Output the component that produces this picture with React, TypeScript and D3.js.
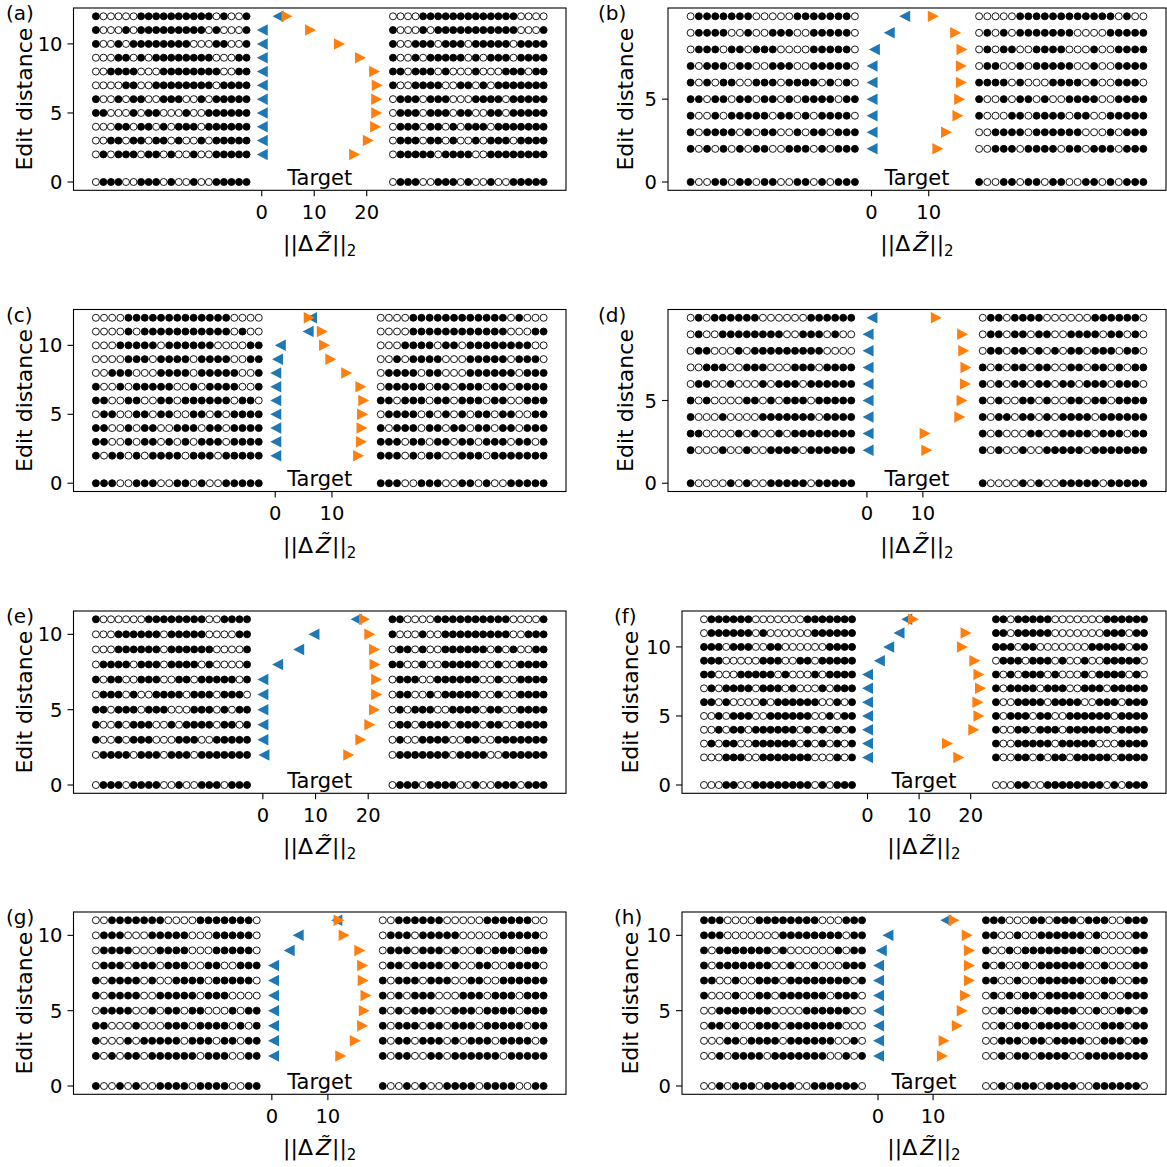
import React from 'react';
import * as d3 from 'd3';

const FONT = '"DejaVu Sans", sans-serif';
const BLUE = '#1f77b4';
const ORANGE = '#ff7f0e';
const GAP = 3;
const BLOCK_W = 28.7;

// ---------------- data ----------------
const panelIds = ['a', 'b', 'c', 'd', 'e', 'f', 'g', 'h'];

const rowsA = [12, 11, 10, 9, 8, 7, 6, 5, 4, 3, 2, 0];
const leftA = ['100000111111111101001', '100010111111111010001', '100101111111100011001', '000110101111111100011', '001111000111111110011', '000011001111111101111', '100101100111001011111', '110001011000100111111', '000110110101110111111', '001101101101001011111', '010111011010010011111', '011100111010010011111'];
const rightA = ['000011111111111110000', '100010111111111110001', '100111011101111101111', '100101111101011101111', '110111010001000111011', '100111100110101111111', '011101110001111011111', '011101110110011011111', '011101101011101111111', '011101101001011101111', '011111011110011111111', '011100111010010011111'];
const blueA = [3.1, 0.1, 0.1, 0.1, 0.1, 0.1, 0.1, 0.1, 0.1, 0.1, 0.1];
const orangeA = [4.8, 9.3, 14.8, 18.8, 21.5, 22.0, 21.9, 21.9, 21.7, 20.3, 17.7];
const xTicksA = [0, 10, 20];
const yTicksA = [0, 5, 10];

const rowsB = [10, 9, 8, 7, 6, 5, 4, 3, 2, 0];
const leftB = ['011111110000011111110', '011110010011100111110', '011101101110000111110', '101110110011100111110', '101011001110111101010', '110110110110101111011', '100101111101101011110', '101111010110010110111', '101010101100111010111', '100110110110011010111'];
const rightB = ['000001111111111110100', '010101111111000011111', '010110011110001001111', '011001011111001001111', '111101000111101001110', '100101101001111001111', '100011011110110011111', '001111011111100010111', '001110111101101110111', '100110110110011010111'];
const blueB = [5.8, 3.1, 0.5, 0.1, 0.1, 0.1, 0.1, 0.1, 0.1];
const orangeB = [10.8, 14.7, 15.8, 15.7, 15.7, 15.4, 15.1, 13.1, 11.6];
const xTicksB = [0, 10];
const yTicksB = [0, 5];

const rowsC = [12, 11, 10, 9, 8, 7, 6, 5, 4, 3, 2, 0];
const leftC = ['000011111111111110000', '000010111111111110100', '000111110111111000011', '000011101111011110011', '001110001111011111001', '100101111100101111001', '110011001101111110110', '011001101100110101111', '110010110011101101111', '110010110101011101111', '101101011110111011111', '111001110011010011111'];
const rightC = ['000011111111111101000', '000011111111111100011', '000111101101111111100', '001011110001111101110', '011110110001111110111', '011111011011101101111', '110111011011101100111', '011110101010110110011', '101110110110110110111', '111011011011011101101', '111010110011101111111', '111001110011010011111'];
const blueC = [6.4, 5.8, 0.9, 0.4, 0.1, 0.1, 0.1, 0.1, 0.1, 0.1, 0.1];
const orangeC = [6.0, 8.3, 8.7, 9.8, 12.6, 15.1, 15.6, 15.4, 15.3, 15.2, 14.7];
const xTicksC = [0, 10];
const yTicksC = [0, 5, 10];

const rowsD = [10, 9, 8, 7, 6, 5, 4, 3, 2, 0];
const leftD = ['010111111000000111111', '010011111111001110100', '011000101111111110000', '001110011100011101111', '011001000101110111111', '101000011010111011111', '100010000111111101111', '110000101001011111111', '100010010011110111111', '100001010011111011111'];
const rightD = ['011011110000001111110', '011011011001111011010', '011011010101101110110', '101011011001101101011', '101011011011011101110', '101001101001101101111', '101101101011110111111', '101000110011110111011', '101001001111101111111', '100001010011111011111'];
const blueD = [0.9, 0.2, 0.2, 0.2, 0.2, 0.2, 0.2, 0.2, 0.2];
const orangeD = [12.4, 17.1, 17.3, 17.7, 17.6, 17.0, 16.6, 10.4, 10.7];
const xTicksD = [0, 10];
const yTicksD = [0, 5];

const rowsE = [11, 10, 9, 8, 7, 6, 5, 4, 3, 2, 0];
const leftE = ['100000011111111001111', '000111111011111000011', '000111111011111100001', '011110111011110100001', '101100111001101111101', '011101001111011101110', '110111011100011101011', '100101110010111101101', '100101110001110011111', '011110111011101111111', '011101111001001110111'];
const rightE = ['110000111111111100001', '100010011111111100111', '011010011111101010011', '110010011111001001111', '011100111111001001111', '011001011111001001111', '010111001111011001111', '011011110111011001111', '010011110011001111111', '011111110111100111111', '011101111001001110111'];
const blueE = [17.7, 9.7, 6.8, 2.8, 0.0, 0.0, 0.0, 0.0, 0.0, 0.2];
const orangeE = [19.3, 20.3, 21.2, 21.3, 21.6, 21.6, 21.2, 20.3, 18.6, 16.3];
const xTicksE = [0, 10, 20];
const yTicksE = [0, 5, 10];

const rowsF = [12, 11, 10, 9, 8, 7, 6, 5, 4, 3, 2, 0];
const leftF = ['011111100000001111111', '011111101000000111111', '111011100110000001111', '111000001110011011111', '110001111101000101111', '010111101110100010111', '110100001011111100101', '001011100111111001011', '001011011111101010101', '010110011111101010101', '000111001111111000101', '000110011111111010111'];
const rightF = ['110111110000000111111', '110111110000000111011', '111011000000011111011', '011101110100100111110', '101011101000101111010', '101111011100111011111', '100111101111001110111', '101110110011111101111', '100110111011111101111', '100111110111110001111', '100110101101111101111', '000110011111111010111'];
const blueF = [7.6, 6.1, 4.1, 2.3, 0, 0, 0, 0, 0, 0, 0];
const orangeF = [8.9, 19.1, 18.4, 20.8, 21.6, 21.9, 21.4, 21.6, 20.6, 15.5, 17.7];
const xTicksF = [0, 10, 20];
const yTicksF = [0, 5, 10];

const rowsG = [11, 10, 9, 8, 7, 6, 5, 4, 3, 2, 0];
const leftG = ['001111111000011111110', '011100011111000111110', '011110001111000111110', '011101110111001100111', '101111010011110111110', '101111001111101110000', '011110010110110001011', '110001000111011110101', '100010111110111011011', '101011011111101110011', '100101001111011110011'];
const rightG = ['001111110000011111100', '011101111100000111110', '011101110100101110111', '011011110100110011110', '101110111001100111111', '101011100011101110111', '101011100111011110111', '101110110111011111011', '101101110101110111101', '101100110111111011111', '100101001111011110011'];
const blueG = [11.6, 4.7, 3.1, 0.3, 0.3, 0.3, 0.3, 0.3, 0.3, 0.3];
const orangeG = [12.0, 12.9, 15.7, 16.2, 16.3, 16.8, 16.5, 16.2, 14.9, 12.3];
const xTicksG = [0, 10];
const yTicksG = [0, 5, 10];

const rowsH = [11, 10, 9, 8, 7, 6, 5, 4, 3, 2, 0];
const leftH = ['111000011111111000111', '111000000011111111011', '101111111010000001011', '101111111001001000111', '110010011101111111101', '100010011011111101110', '001111111000011111100', '011010011101111111000', '000110111101111110010', '001011110111111100101', '001011101111001111110'];
const rightH = ['111000110111011100111', '110010011111101000011', '100101111111101000011', '101001011111100100011', '110010011111100110011', '010101101111100100111', '001011101111001001101', '001011011111000111011', '001110110111100111011', '001011011110011111111', '001011101111001111110'];
const blueH = [12.3, 1.8, 0.6, 0.1, 0.1, 0.1, 0.1, 0.1, 0.1, 0.1];
const orangeH = [13.8, 16.2, 16.6, 16.6, 16.6, 15.9, 15.3, 14.4, 12.0, 11.7];
const xTicksH = [0, 10];
const yTicksH = [0, 5, 10];

const panels = [
  { id: 'a', rows: rowsA, left: leftA, right: rightA, blue: blueA, orange: orangeA, xTicks: xTicksA, yTicks: yTicksA },
  { id: 'b', rows: rowsB, left: leftB, right: rightB, blue: blueB, orange: orangeB, xTicks: xTicksB, yTicks: yTicksB },
  { id: 'c', rows: rowsC, left: leftC, right: rightC, blue: blueC, orange: orangeC, xTicks: xTicksC, yTicks: yTicksC },
  { id: 'd', rows: rowsD, left: leftD, right: rightD, blue: blueD, orange: orangeD, xTicks: xTicksD, yTicks: yTicksD },
  { id: 'e', rows: rowsE, left: leftE, right: rightE, blue: blueE, orange: orangeE, xTicks: xTicksE, yTicks: yTicksE },
  { id: 'f', rows: rowsF, left: leftF, right: rightF, blue: blueF, orange: orangeF, xTicks: xTicksF, yTicks: yTicksF },
  { id: 'g', rows: rowsG, left: leftG, right: rightG, blue: blueG, orange: orangeG, xTicks: xTicksG, yTicks: yTicksG },
  { id: 'h', rows: rowsH, left: leftH, right: rightH, blue: blueH, orange: orangeH, xTicks: xTicksH, yTicks: yTicksH },
];

// ---------------- layout ----------------
const boxes = {
  a: { left: 73.5, right: 566, top: 8, bottom: 190.3, labelX: 6, ylabX: 32 },
  b: { left: 668, right: 1166, top: 8, bottom: 190.3, labelX: 598, ylabX: 633 },
  c: { left: 73.5, right: 566, top: 309.5, bottom: 491.5, labelX: 6, ylabX: 32 },
  d: { left: 668, right: 1166, top: 309.5, bottom: 491.5, labelX: 598, ylabX: 633 },
  e: { left: 73.5, right: 566, top: 611, bottom: 793.3, labelX: 6, ylabX: 32 },
  f: { left: 682, right: 1166, top: 611, bottom: 793.3, labelX: 614, ylabX: 638 },
  g: { left: 73.5, right: 566, top: 912, bottom: 1094.3, labelX: 6, ylabX: 32 },
  h: { left: 682, right: 1166, top: 912, bottom: 1094.3, labelX: 614, ylabX: 638 },
};

const TICK_FS = 19.5;
const LABEL_FS = 22;
const CIRCLE_R = 3.5;
const TRI_W = 11;
const TRI_H = 11.5;

function triPath(cx: number, cy: number, dir: 'l' | 'r') {
  const p = d3.path();
  if (dir === 'l') {
    p.moveTo(cx - TRI_W / 2, cy);
    p.lineTo(cx + TRI_W / 2, cy - TRI_H / 2);
    p.lineTo(cx + TRI_W / 2, cy + TRI_H / 2);
  } else {
    p.moveTo(cx + TRI_W / 2, cy);
    p.lineTo(cx - TRI_W / 2, cy - TRI_H / 2);
    p.lineTo(cx - TRI_W / 2, cy + TRI_H / 2);
  }
  p.closePath();
  return p.toString();
}

function Panel({ p }: { p: any }) {
  const box = (boxes as any)[p.id];
  const maxRow = d3.max(p.rows as number[]) as number;
  const y = d3.scaleLinear().domain([-0.05 * maxRow, 1.05 * maxRow]).range([box.bottom, box.top]);

  const leftEnd = (d3.min(p.blue as number[]) as number) - GAP;
  const leftStart = leftEnd - BLOCK_W;
  const rightStart = (d3.max(p.orange as number[]) as number) + GAP;
  const rightEnd = rightStart + BLOCK_W;
  const span = rightEnd - leftStart;
  const x = d3.scaleLinear().domain([leftStart - 0.05 * span, rightEnd + 0.05 * span]).range([box.left, box.right]);

  const cxMid = (box.left + box.right) / 2;
  const cyMid = (box.top + box.bottom) / 2;

  const seqCircles = (seqs: string[], start: number, key: string) =>
    seqs.map((s, ri) => {
      const bits = s.split('');
      const pos = d3.scaleLinear().domain([0, bits.length - 1]).range([start, start + BLOCK_W]);
      return bits.map((b, i) => (
        <circle
          key={`${key}-${ri}-${i}`}
          cx={x(pos(i))}
          cy={y(p.rows[ri])}
          r={CIRCLE_R}
          fill={b === '1' ? '#000' : '#fff'}
          stroke="#000"
          strokeWidth={0.9}
        />
      ));
    });

  return (
    <g>
      {/* sequences */}
      {seqCircles(p.left, leftStart, 'L')}
      {seqCircles(p.right, rightStart, 'R')}
      {/* markers */}
      {(p.blue as number[]).map((v, i) => (
        <path key={`b${i}`} d={triPath(x(v), y(p.rows[i]), 'l')} fill={BLUE} />
      ))}
      {(p.orange as number[]).map((v, i) => (
        <path key={`o${i}`} d={triPath(x(v), y(p.rows[i]), 'r')} fill={ORANGE} />
      ))}
      {/* Target */}
      <text x={cxMid} y={box.bottom - 5.5} textAnchor="middle" fontSize={21} fontFamily={FONT} fill="#000">Target</text>
      {/* frame */}
      <rect x={box.left} y={box.top} width={box.right - box.left} height={box.bottom - box.top} fill="none" stroke="#000" strokeWidth={1.1} />
      {/* y ticks */}
      {(p.yTicks as number[]).map((t) => (
        <g key={`yt${t}`}>
          <line x1={box.left - 6} x2={box.left} y1={y(t)} y2={y(t)} stroke="#000" strokeWidth={1.1} />
          <text x={box.left - 11} y={y(t)} dy="0.36em" textAnchor="end" fontSize={TICK_FS} fontFamily={FONT} fill="#000">{t}</text>
        </g>
      ))}
      {/* x ticks */}
      {(p.xTicks as number[]).map((t) => (
        <g key={`xt${t}`}>
          <line x1={x(t)} x2={x(t)} y1={box.bottom} y2={box.bottom + 6} stroke="#000" strokeWidth={1.1} />
          <text x={x(t)} y={box.bottom + 28.5} textAnchor="middle" fontSize={TICK_FS} fontFamily={FONT} fill="#000">{t}</text>
        </g>
      ))}
      {/* y label */}
      <text transform={`translate(${box.ylabX},${cyMid}) rotate(-90)`} textAnchor="middle" fontSize={LABEL_FS} fontFamily={FONT} fill="#000">Edit distance</text>
      {/* x label */}
      <text x={cxMid} y={box.bottom + 61} textAnchor="middle" fontSize={LABEL_FS} fontFamily={FONT} fill="#000">
        <tspan>||Δ</tspan>
        <tspan dx={3} fontStyle="italic">Z&#x0303;</tspan>
        <tspan dx={1}>||</tspan>
        <tspan fontSize={15} dy={5}>2</tspan>
      </text>
      {/* panel label */}
      <text x={box.labelX} y={box.top + 12} fontSize={20} fontFamily={FONT} fill="#000">({p.id})</text>
    </g>
  );
}

export default function App() {
  return (
    <svg width={1167} height={1167} style={{ position: 'absolute', left: 0, top: 0, background: '#fff' }}>
      <rect x={0} y={0} width={1167} height={1167} fill="#fff" />
      {panels.map((p) => (
        <Panel key={p.id} p={p} />
      ))}
    </svg>
  );
}
